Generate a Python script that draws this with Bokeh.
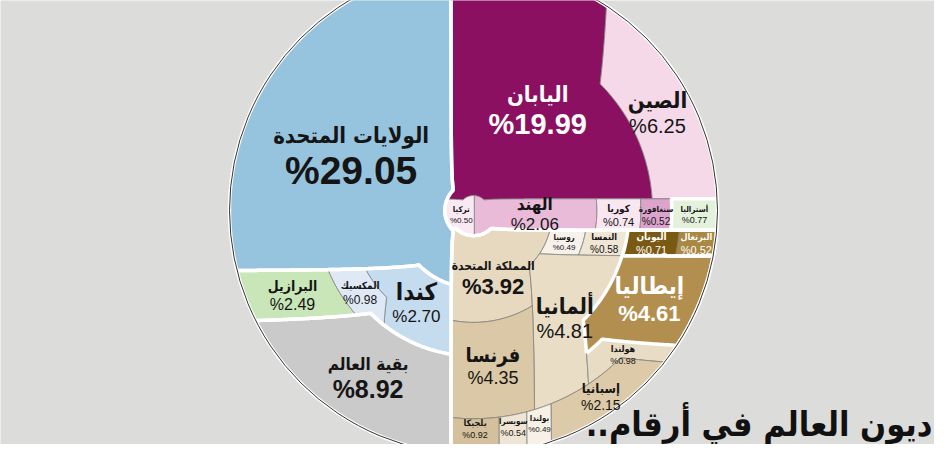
import numpy as np
from bokeh.plotting import figure
from bokeh.models import ColumnDataSource, Range1d, Label
from bokeh.core.properties import value
from bokeh.embed import file_html
from bokeh.resources import INLINE

# ---------------- data ----------------
countries = ["US", "Japan", "China", "India", "Korea", "Singapore", "Australia",
             "Turkey", "Greece", "Portugal", "Italy", "Russia", "UK", "Austria",
             "Germany", "Netherlands", "France", "Spain", "Poland", "Switzerland",
             "Belgium", "Canada", "Mexico", "Brazil", "Rest"]
names_ar = ["الولايات المتحدة", "اليابان", "الصين", "الهند", "كوريا", "سنغافورة", "أستراليا",
            "تركيا", "اليونان", "البرتغال", "إيطاليا", "روسيا", "المملكة المتحدة", "النمسا",
            "ألمانيا", "هولندا", "فرنسا", "إسبانيا", "بولندا", "سويسرا",
            "بلجيكا", "كندا", "المكسيك", "البرازيل", "بقية العالم"]
shares = [29.05, 19.99, 6.25, 2.06, 0.74, 0.52, 0.77,
          0.50, 0.71, 0.52, 4.61, 0.49, 3.92, 0.58,
          4.81, 0.98, 4.35, 2.15, 0.49, 0.54,
          0.92, 2.70, 0.98, 2.49, 8.92]
title_text = "ديون العالم في أرقام..\u200f"

# groups (white borders between them)
groups = [["US"], ["Brazil", "Mexico", "Canada"], ["Rest"],
          ["Japan", "China", "Turkey", "India", "Korea", "Singapore"], ["Australia"],
          ["Russia", "Austria", "UK", "France", "Belgium", "Switzerland", "Germany",
           "Poland", "Spain", "Netherlands"], ["Greece", "Portugal"], ["Italy"]]

# arrangement of cells (x: left->right, y: top->bottom)
tree = ["x",
        ["y", "US", ["x", "Brazil", "Mexico", "Canada"], "Rest"],
        ["y",
         ["y", ["x", "Japan", "China"],
               ["x", "Turkey", "India", "Korea", "Singapore", "Australia"]],
         ["y",
          ["x",
           ["y", "UK", "France"],
           ["y", ["x", "Russia", "Austria", "Greece", "Portugal"],
                 ["x", "Germany", ["y", "Italy", "Netherlands"]]]],
          ["x", "Belgium", "Switzerland", "Poland", "Spain"]]]]

# ---------------- styles ----------------
fill = {"US": "#96c4df", "Japan": "#8c1061", "China": "#f5d9e9", "India": "#e9bbd9",
        "Korea": "#f8e6f1", "Singapore": "#dca4cd", "Australia": "#e4f2dc",
        "Turkey": "#f9e9f3", "Greece": "#7a5a12", "Portugal": "#a88842", "Italy": "#b38f4f",
        "Russia": "#f6f1ea", "UK": "#e6d9c0", "Austria": "#efe6d6", "Germany": "#e9ddc6",
        "Netherlands": "#e8dcc4", "France": "#dac8a6", "Spain": "#dccaa8", "Poland": "#f6f0e6",
        "Switzerland": "#efe5d4", "Belgium": "#d4c09c", "Canada": "#c5dbee",
        "Mexico": "#dfe9f5", "Brazil": "#c8e6b8", "Rest": "#cacaca"}
white_text = {"Japan", "Italy", "Greece", "Portugal"}
name_px = {"US": 22, "Japan": 22, "China": 22, "India": 17, "Korea": 10, "Singapore": 8,
           "Australia": 8, "Turkey": 8, "Greece": 10, "Portugal": 9, "Italy": 24, "Russia": 8,
           "UK": 12, "Austria": 9, "Germany": 22, "Netherlands": 9, "France": 20, "Spain": 13,
           "Poland": 8, "Switzerland": 8, "Belgium": 9, "Canada": 24, "Mexico": 10,
           "Brazil": 14, "Rest": 17}
val_px = {"US": 39, "Japan": 29, "China": 20, "India": 17, "Korea": 11, "Singapore": 10,
          "Australia": 9, "Turkey": 8, "Greece": 11, "Portugal": 11, "Italy": 22, "Russia": 8,
          "UK": 22, "Austria": 10, "Germany": 20, "Netherlands": 9, "France": 18, "Spain": 14,
          "Poland": 8, "Switzerland": 9, "Belgium": 9, "Canada": 17, "Mexico": 12,
          "Brazil": 16, "Rest": 25}
bold_val = {"US", "Japan", "Rest", "UK", "Italy"}
NAME_FONT = "DejaVu Sans Condensed"

R = 244.0
W, H = 934, 444
CX, CY = 473, 210  # circle centre in canvas pixels (from top-left)

share_of = dict(zip(countries, shares))
name_of = dict(zip(countries, names_ar))


def area(node):
    if isinstance(node, str):
        return share_of[node]
    return sum(area(k) for k in node[1:])


def layout(node, x0, x1, y0, y1, out):
    if isinstance(node, str):
        out[node] = (x0, x1, y0, y1)
        return
    d, kids = node[0], node[1:]
    tot = sum(area(k) for k in kids)
    if d == "x":
        cur = x0
        for k in kids:
            w = (x1 - x0) * area(k) / tot
            layout(k, cur, cur + w, y0, y1, out)
            cur += w
    else:
        cur = y1
        for k in kids:
            h = (y1 - y0) * area(k) / tot
            layout(k, x0, x1, cur - h, cur, out)
            cur -= h


def concentric(a, b):
    # equal-area square -> disk mapping (Shirley & Chiu)
    a = np.asarray(a, float)
    b = np.asarray(b, float)
    m1 = np.abs(a) > np.abs(b)
    r = np.where(m1, a, b)
    sa = np.where(a == 0, 1.0, a)
    sb = np.where(b == 0, 1.0, b)
    phi = np.where(m1, np.pi / 4 * b / sa, np.pi / 2 - np.pi / 4 * a / sb)
    return r * np.cos(phi), r * np.sin(phi)


def rect_outline(x0, x1, y0, y1, n=160):
    t = np.linspace(0, 1, n, endpoint=False)
    xs = np.concatenate([x0 + (x1 - x0) * t, np.full(n, x1), x1 - (x1 - x0) * t, np.full(n, x0)])
    ys = np.concatenate([np.full(n, y0), y0 + (y1 - y0) * t, np.full(n, y1), y1 - (y1 - y0) * t])
    dx, dy = concentric(xs, ys)
    return dx * R, dy * R


def clip(px, py, xmin, xmax, ymin, ymax):
    pts = list(zip(px, py))
    for axis, lim, keep_ge in ((0, xmin, True), (0, xmax, False), (1, ymin, True), (1, ymax, False)):
        if not pts:
            break
        res = []
        for i in range(len(pts)):
            cpt, ppt = pts[i], pts[i - 1]
            cin = (cpt[axis] >= lim) if keep_ge else (cpt[axis] <= lim)
            pin = (ppt[axis] >= lim) if keep_ge else (ppt[axis] <= lim)
            if cin != pin:
                t = (lim - ppt[axis]) / (cpt[axis] - ppt[axis])
                res.append((ppt[0] + t * (cpt[0] - ppt[0]), ppt[1] + t * (cpt[1] - ppt[1])))
            if cin:
                res.append(cpt)
        pts = res
    a = np.array(pts)
    return a[:, 0], a[:, 1]


def centroid(px, py):
    x1, y1 = np.roll(px, -1), np.roll(py, -1)
    cr = px * y1 - x1 * py
    a = cr.sum() / 2
    return ((px + x1) * cr).sum() / (6 * a), ((py + y1) * cr).sum() / (6 * a)


rects = {}
layout(tree, -1.0, 1.0, -1.0, 1.0, rects)

xmin, xmax, ymin, ymax = -CX, W - CX, CY - H, CY
xs, ys, fills, lx, ly = [], [], [], [], []
for c in countries:
    px, py = rect_outline(*rects[c])
    xs.append(list(px))
    ys.append(list(py))
    fills.append(fill[c])
    vx, vy = clip(px, py, xmin + 4, xmax - 4, ymin + 5, ymax - 4)
    cx, cy = centroid(vx, vy)
    lx.append(cx)
    ly.append(cy)

p = figure(width=W, height=H, output_backend="svg", toolbar_location=None,
           x_axis_type=None, y_axis_type=None,
           x_range=Range1d(xmin, xmax), y_range=Range1d(ymin, ymax),
           min_border=0, background_fill_color="#dcdcda", border_fill_color="#dcdcda")
p.outline_line_color = None
p.grid.visible = False

cells = ColumnDataSource(dict(xs=xs, ys=ys, fill=fills))
p.patches("xs", "ys", source=cells, fill_color="fill", line_color="#7a7a7a", line_width=0.8)

# white gaps between groups
gx, gy = [], []
for g in groups:
    x0 = min(rects[c][0] for c in g)
    x1 = max(rects[c][1] for c in g)
    y0 = min(rects[c][2] for c in g)
    y1 = max(rects[c][3] for c in g)
    px, py = rect_outline(x0, x1, y0, y1)
    gx.append(list(np.append(px, px[0])))
    gy.append(list(np.append(py, py[0])))
p.multi_line(gx, gy, line_color="white", line_width=3.5)

# outer rim
p.circle(x=[0], y=[0], radius=R, fill_color=None, line_color="#333333", line_width=1)

labels = ColumnDataSource(dict(
    x=lx, y=ly,
    name=[name_of[c] for c in countries],
    val=["%" + f"{share_of[c]:.2f}" for c in countries],
    nsize=[f"{name_px[c]}px" for c in countries],
    vsize=[f"{val_px[c]}px" for c in countries],
    noff=[-(0.55 * name_px[c] + 1) for c in countries],
    voff=[0.55 * val_px[c] + 1 for c in countries],
    color=["white" if c in white_text else "#151515" for c in countries],
    vstyle=["bold" if c in bold_val else "normal" for c in countries],
))
p.text("x", "y", text="name", source=labels, text_font=value(NAME_FONT),
       text_font_style="bold", text_font_size="nsize", text_color="color",
       text_align="center", text_baseline="middle", y_offset="noff")
p.text("x", "y", text="val", source=labels, text_font=value("Liberation Sans"),
       text_font_style="vstyle", text_font_size="vsize", text_color="color",
       text_align="center", text_baseline="middle", y_offset="voff")

p.add_layout(Label(x=932, y=1, x_units="screen", y_units="screen", text=title_text,
                   text_align="right", text_baseline="bottom", text_font_size="34px",
                   text_font_style="bold", text_font=NAME_FONT, text_color="#111111"))

open("out.html", "w").write(file_html(p, INLINE))
